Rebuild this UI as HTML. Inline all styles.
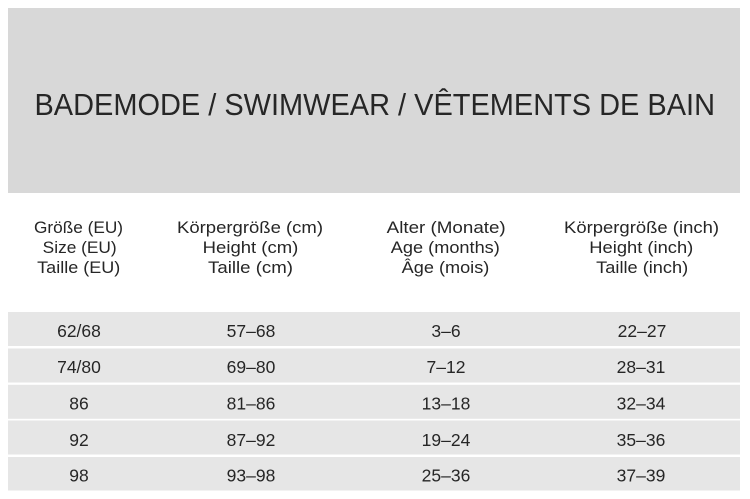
<!DOCTYPE html>
<html>
<head>
<meta charset="utf-8">
<style>
html,body{margin:0;padding:0;background:#fff;}
svg{display:block;}
text{font-family:"Liberation Sans",sans-serif;fill:#262626;}
.h{font-size:17px;}
.d{font-size:17.5px;}
</style>
</head>
<body>
<svg width="750" height="499" viewBox="0 0 750 499" xmlns="http://www.w3.org/2000/svg">
  <rect x="0" y="0" width="750" height="499" fill="#ffffff"/>
  <rect x="8" y="8" width="732" height="185" fill="#d8d8d8"/>
  <text x="34.5" y="115" font-size="31" textLength="680.5" lengthAdjust="spacingAndGlyphs" style="fill:#262626">BADEMODE / SWIMWEAR / VÊTEMENTS DE BAIN</text>

  <!-- column headers -->
  <g class="h" text-anchor="middle">
    <text class="h" x="78.5" y="233" textLength="89" lengthAdjust="spacingAndGlyphs">Größe (EU)</text>
    <text class="h" x="79.7" y="253" textLength="74" lengthAdjust="spacingAndGlyphs">Size (EU)</text>
    <text class="h" x="78.7" y="273" textLength="83" lengthAdjust="spacingAndGlyphs">Taille (EU)</text>

    <text class="h" x="250" y="233" textLength="146" lengthAdjust="spacingAndGlyphs">Körpergröße (cm)</text>
    <text class="h" x="250.5" y="253" textLength="95.6" lengthAdjust="spacingAndGlyphs">Height (cm)</text>
    <text class="h" x="250.5" y="273" textLength="85" lengthAdjust="spacingAndGlyphs">Taille (cm)</text>

    <text class="h" x="446.2" y="233" textLength="119" lengthAdjust="spacingAndGlyphs">Alter (Monate)</text>
    <text class="h" x="445.3" y="253" textLength="109" lengthAdjust="spacingAndGlyphs">Age (months)</text>
    <text class="h" x="445.5" y="273" textLength="87.6" lengthAdjust="spacingAndGlyphs">Âge (mois)</text>

    <text class="h" x="641.5" y="233" textLength="155" lengthAdjust="spacingAndGlyphs">Körpergröße (inch)</text>
    <text class="h" x="641.3" y="253" textLength="104" lengthAdjust="spacingAndGlyphs">Height (inch)</text>
    <text class="h" x="642.2" y="273" textLength="92" lengthAdjust="spacingAndGlyphs">Taille (inch)</text>
  </g>

  <!-- rows -->
  <rect x="8" y="312" width="732" height="34" fill="#e6e6e6"/>
  <rect x="8" y="348.5" width="732" height="34" fill="#e6e6e6"/>
  <rect x="8" y="384.8" width="732" height="34" fill="#e6e6e6"/>
  <rect x="8" y="420.5" width="732" height="34" fill="#e6e6e6"/>
  <rect x="8" y="457" width="732" height="33.5" fill="#e6e6e6"/>

  <g text-anchor="middle">
    <text class="d" x="79" y="337">62/68</text>
    <text class="d" x="251" y="337">57–68</text>
    <text class="d" x="446" y="337">3–6</text>
    <text class="d" x="642" y="337">22–27</text>

    <text class="d" x="79" y="373">74/80</text>
    <text class="d" x="251" y="373">69–80</text>
    <text class="d" x="446" y="373">7–12</text>
    <text class="d" x="641" y="373">28–31</text>

    <text class="d" x="79" y="409.5">86</text>
    <text class="d" x="251" y="409.5">81–86</text>
    <text class="d" x="446" y="409.5">13–18</text>
    <text class="d" x="641" y="409.5">32–34</text>

    <text class="d" x="79" y="446">92</text>
    <text class="d" x="251" y="446">87–92</text>
    <text class="d" x="446" y="446">19–24</text>
    <text class="d" x="641" y="446">35–36</text>

    <text class="d" x="79" y="481.5">98</text>
    <text class="d" x="251" y="481.5">93–98</text>
    <text class="d" x="446" y="481.5">25–36</text>
    <text class="d" x="641" y="481.5">37–39</text>
  </g>
</svg>
</body>
</html>
